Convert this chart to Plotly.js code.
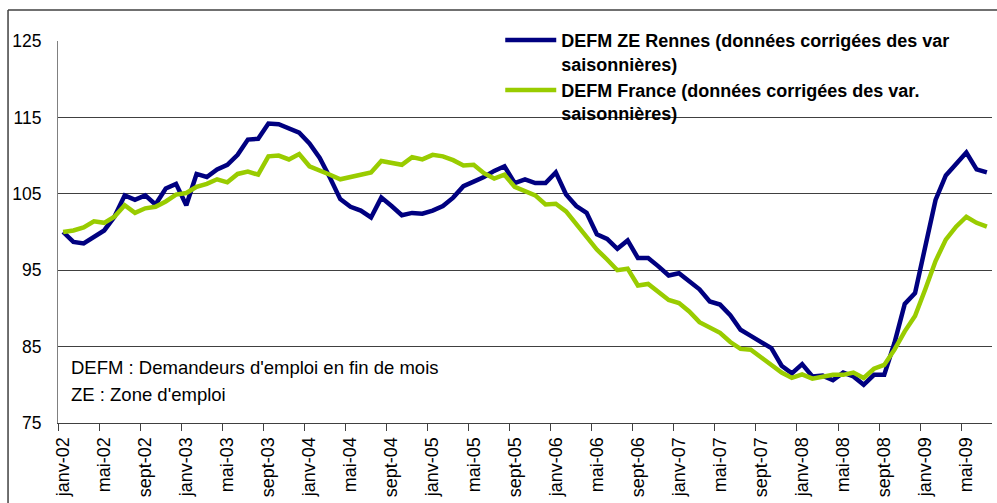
<!DOCTYPE html>
<html>
<head>
<meta charset="utf-8">
<script src="https://cdn.plot.ly/plotly-3.0.1.min.js"></script>
<style>
  html, body { margin: 0; padding: 0; background: #ffffff; }
  #chart { width: 997px; height: 503px; }
</style>
</head>
<body>
<div id="chart"></div>
<script>
// Month names and years used to build the category labels
const monthNames = ["janv", "févr", "mars", "avr", "mai", "juin", "juil", "août", "sept", "oct", "nov", "déc"];
const years = ["02", "03", "04", "05", "06", "07", "08", "09"];
const nMonths = 91; // janv-02 .. juil-09

const categories = [];
for (let k = 0; k < nMonths; k++) {
  categories.push(monthNames[k % 12] + "-" + years[Math.floor(k / 12)]);
}

const seriesNames = [
  "DEFM ZE Rennes (données corrigées des var<br>saisonnières)",
  "DEFM France (données corrigées des var.<br>saisonnières)"
];

const rennes = [
  100.0, 98.7, 98.5, 99.4, 100.2, 102.0, 104.8, 104.2, 104.8, 103.6, 105.7, 106.3,
  103.5, 107.6, 107.2, 108.2, 108.8, 110.1, 112.1, 112.2, 114.2, 114.1, 113.6, 113.0,
  111.6, 109.7, 107.1, 104.3, 103.3, 102.8, 101.9, 104.5, 103.4, 102.2, 102.5, 102.4,
  102.8, 103.4, 104.5, 106.0, 106.6, 107.2, 108.0, 108.6, 106.4, 106.9, 106.4, 106.4,
  107.8, 104.9, 103.4, 102.5, 99.7, 99.1, 97.8, 98.9, 96.6, 96.6, 95.5, 94.3,
  94.6, 93.5, 92.5, 90.9, 90.5, 89.1, 87.2, 86.4, 85.6, 84.8, 82.5, 81.5,
  82.7, 81.1, 81.2, 80.6, 81.6, 81.1, 80.0, 81.3, 81.3, 85.5, 90.6, 92.0,
  98.1, 104.2, 107.4, 108.8, 110.4, 108.2, 107.8
];

const france = [
  100.0, 100.2, 100.6, 101.4, 101.2, 102.0, 103.5, 102.5, 103.1, 103.3, 104.0, 104.9,
  105.1, 105.9, 106.3, 106.9, 106.5, 107.6, 107.9, 107.5, 109.9, 110.0, 109.5, 110.2,
  108.6, 108.1, 107.5, 106.9, 107.2, 107.4, 107.8, 109.3, 109.0, 108.8, 109.8, 109.5,
  110.1, 109.9, 109.4, 108.7, 108.8, 107.7, 107.0, 107.5, 105.9, 105.4, 104.8, 103.6,
  103.7, 102.7, 101.1, 99.4, 97.7, 96.4, 95.0, 95.2, 93.0, 93.2, 92.1, 91.1,
  90.7, 89.6, 88.2, 87.5, 86.8, 85.6, 84.7, 84.6, 83.6, 82.6, 81.6, 80.9,
  81.35, 80.8, 81.1, 81.3, 81.3, 81.6, 80.9, 82.1, 82.6, 84.6, 87.0, 89.0,
  92.5, 96.2, 99.0, 100.7, 102.0, 101.2, 100.7
];

const yTickVals = [75, 85, 95, 105, 115, 125];
const noteLines = ["DEFM : Demandeurs d'emploi en fin de mois", "ZE : Zone d'emploi"];

const FONT = "Arial, 'Liberation Sans', sans-serif";

const traces = [
  {
    x: categories, y: rennes, type: "scatter", mode: "lines",
    name: seriesNames[0], legendgroup: "g1",
    line: { color: "#000080", width: 4.5 }
  },
  {
    x: categories, y: france, type: "scatter", mode: "lines",
    name: seriesNames[1], legendgroup: "g2",
    line: { color: "#99cc00", width: 4.5 }
  }
];

const layout = {
  width: 997, height: 503,
  margin: { l: 58, r: 5, t: 41, b: 80, pad: 0 },
  paper_bgcolor: "#ffffff", plot_bgcolor: "#ffffff",
  font: { family: FONT, color: "#000000", size: 17 },
  showlegend: true,
  legend: {
    x: 0.4735, xanchor: "left",
    y: 1.05, yanchor: "top",
    bgcolor: "rgba(0,0,0,0)",
    borderwidth: 0,
    itemwidth: 51,
    valign: "top",
    tracegroupgap: 8,
    font: { family: FONT, size: 18, color: "#000000", weight: "bold" },
    traceorder: "normal"
  },
  xaxis: {
    type: "category",
    range: [-0.5, 90.5],
    tickmode: "linear", tick0: 0, dtick: 4,
    tickson: "boundaries",
    ticks: "outside", ticklen: 7, tickwidth: 1, tickcolor: "#404040",
    tickangle: -90,
    ticklabelstandoff: 6,
    tickfont: { family: FONT, size: 18, color: "#000000" },
    showgrid: false, zeroline: false,
    showline: true, linecolor: "#404040", linewidth: 1,
    fixedrange: true
  },
  yaxis: {
    range: [75, 125],
    tickmode: "array", tickvals: yTickVals,
    ticks: "", ticklabelstandoff: 12,
    tickfont: { family: FONT, size: 17.5, color: "#000000" },
    showgrid: true, gridcolor: "#404040", gridwidth: 1,
    zeroline: false,
    showline: true, linecolor: "#808080", linewidth: 1,
    fixedrange: true
  },
  shapes: [
    // chart area border (top and left edges; the rest lies outside the picture)
    { type: "line", xref: "paper", yref: "paper",
      x0: -0.0535, x1: 1.01, y0: 1.0812, y1: 1.0812,
      line: { color: "#404040", width: 1.5 }, layer: "above" },
    { type: "line", xref: "paper", yref: "paper",
      x0: -0.0535, x1: -0.0535, y0: -0.25, y1: 1.0812,
      line: { color: "#404040", width: 1.5 }, layer: "above" },
    // white legend box area hiding the upper gridlines
    { type: "rect", xref: "paper", yref: "paper",
      x0: 0.4348, x1: 0.9995, y0: 0.78, y1: 1.0,
      line: { width: 0 }, fillcolor: "#ffffff", layer: "between" }
  ],
  annotations: [
    { text: noteLines[0], xref: "paper", yref: "paper", x: 0.0117, y: 0.144,
      xanchor: "left", yanchor: "middle", showarrow: false,
      font: { family: FONT, size: 18.5, color: "#000000" } },
    { text: noteLines[1], xref: "paper", yref: "paper", x: 0.0117, y: 0.0759,
      xanchor: "left", yanchor: "middle", showarrow: false,
      font: { family: FONT, size: 18.5, color: "#000000" } }
  ]
};

Plotly.newPlot("chart", traces, layout, { staticPlot: true, displayModeBar: false });
</script>
</body>
</html>
